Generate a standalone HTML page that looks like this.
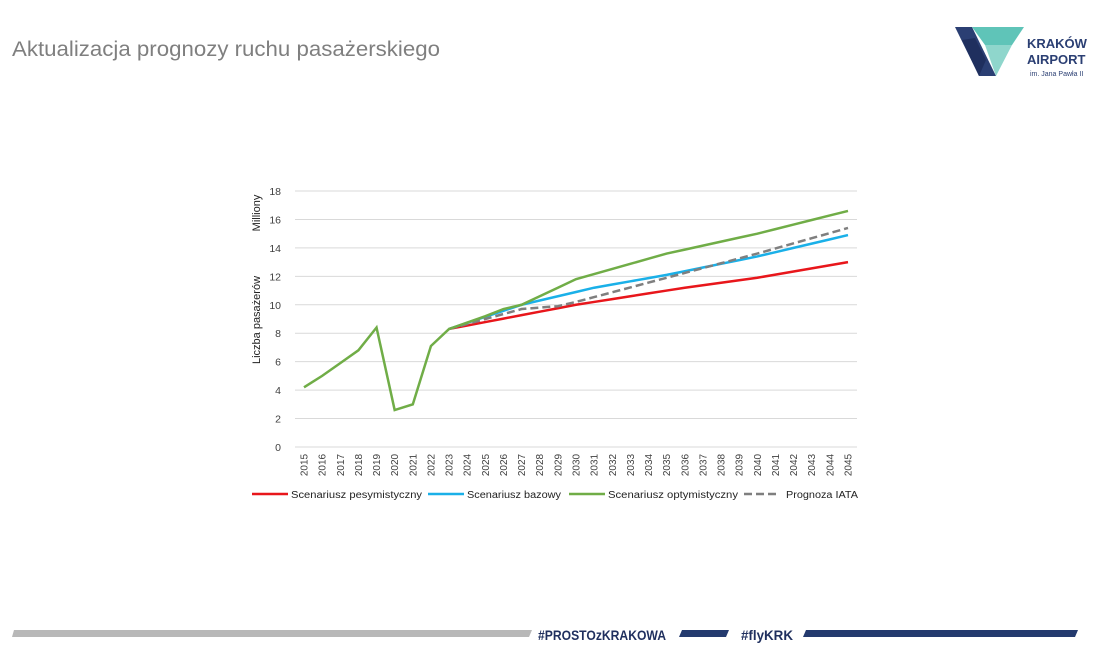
<!DOCTYPE html>
<html><head><meta charset="utf-8"><style>
body{margin:0;width:1108px;height:660px;background:#fff;overflow:hidden;position:relative;font-family:"Liberation Sans",sans-serif}
</style></head><body>
<svg width="1108" height="660" style="position:absolute;left:0;top:0" font-family="Liberation Sans, sans-serif">
<text x="12" y="56" font-size="21" fill="#7f7f7f" textLength="428" lengthAdjust="spacingAndGlyphs">Aktualizacja prognozy ruchu pasażerskiego</text>
<g>
<polygon points="955,27 972,27 996,76 979,76" fill="#2b3f73"/>
<polygon points="972,27 1024,27 1012,45 985,45" fill="#5fc4b8"/>
<polygon points="985,45 1012,45 996,76" fill="#8fd6cc"/>
<polygon points="962,40 975,38 986,60 979,76" fill="#1f2f5e"/>
<text x="1027" y="48" font-size="13" font-weight="bold" fill="#2b3f73">KRAKÓW</text>
<text x="1027" y="64" font-size="13" font-weight="bold" fill="#2b3f73">AIRPORT</text>
<text x="1030" y="76" font-size="7" fill="#2b3f73">im. Jana Pawła II</text>
</g>
<g id="c"></g>
<polygon points="14,630 532,630 529,637 12,637" fill="#b8b8b8"/>
<text x="538" y="640" font-size="14" font-weight="bold" fill="#1f2f5e" textLength="128" lengthAdjust="spacingAndGlyphs">#PROSTOzKRAKOWA</text>
<polygon points="682,630 729,630 726,637 679,637" fill="#243a6e"/>
<text x="741" y="640" font-size="14" font-weight="bold" fill="#1f2f5e" textLength="52" lengthAdjust="spacingAndGlyphs">#flyKRK</text>
<polygon points="806,630 1078,630 1075,637 803,637" fill="#243a6e"/>
</svg>
<script>
var g=document.getElementById('c'),h='';
function X(y){return 304+(y-2015)*544/30}
function Y(v){return 447-v*256/18}
for(var i=0;i<=9;i++){var yy=Y(i*2);h+='<line x1="295" x2="857" y1="'+yy+'" y2="'+yy+'" stroke="#d9d9d9" stroke-width="1"/>';h+='<text x="281" y="'+(yy+4)+'" font-size="10.5" text-anchor="end" fill="#404040">'+(i*2)+'</text>';}
for(var y=2015;y<=2045;y++){h+='<text transform="translate('+(X(y)+3.5)+',465) rotate(-90)" font-size="10" text-anchor="middle" fill="#404040">'+y+'</text>';}
h+='<text transform="translate(260,213) rotate(-90)" font-size="11" text-anchor="middle" fill="#222">Milliony</text>';
h+='<text transform="translate(260,320) rotate(-90)" font-size="11" text-anchor="middle" fill="#222">Liczba pasażerów</text>';
function interp(k){var o=[],ks=Object.keys(k).map(Number).sort();for(var y=ks[0];y<=ks[ks.length-1];y++){for(var j=0;j<ks.length-1;j++){if(y>=ks[j]&&y<=ks[j+1]){var t=(y-ks[j])/(ks[j+1]-ks[j]);o.push([y,k[ks[j]]+t*(k[ks[j+1]]-k[ks[j]])]);break;}}}return o}
function line(p,c,d){h+='<polyline fill="none" stroke="'+c+'" stroke-width="2.5" '+(d?'stroke-dasharray="8,4" ':'')+'points="'+p.map(function(a){return X(a[0])+','+Y(a[1])}).join(' ')+'"/>'}
line(interp({2023:8.3,2030:10.0,2036:11.2,2040:11.9,2045:13.0}),'#e8161b');
line(interp({2023:8.3,2027:10.0,2030:10.9,2031:11.2,2035:12.1,2040:13.4,2045:14.9}),'#1ab0e8');
line(interp({2023:8.3,2025:9.0,2027:9.7,2029:9.9,2030:10.2,2035:11.9,2040:13.6,2045:15.4}),'#7f7f7f',1);
line(interp({2015:4.2,2016:5.0,2017:5.9,2018:6.8,2019:8.4,2020:2.6,2021:3.0,2022:7.1,2023:8.3,2025:9.2,2026:9.7,2027:10.0,2030:11.8,2035:13.6,2040:15.0,2045:16.6}),'#70ad47');
var L=[['Scenariusz pesymistyczny','#e8161b',252,131],['Scenariusz bazowy','#1ab0e8',428,94],['Scenariusz optymistyczny','#70ad47',569,130],['Prognoza IATA','#7f7f7f',744,72]];
L.forEach(function(l,i){h+='<line x1="'+l[2]+'" x2="'+(l[2]+36)+'" y1="494" y2="494" stroke="'+l[1]+'" stroke-width="2.5" '+(i==3?'stroke-dasharray="8,4"':'')+'/>';h+='<text x="'+(l[2]+(i==3?42:39))+'" y="498" font-size="10" fill="#222" textLength="'+l[3]+'" lengthAdjust="spacingAndGlyphs">'+l[0]+'</text>'});
g.innerHTML=h;
</script>
</body></html>
